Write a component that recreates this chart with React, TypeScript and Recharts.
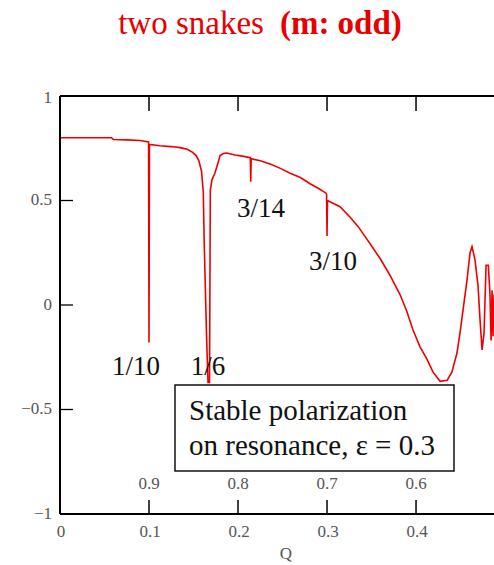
import React from "react";
import { LineChart, Line, XAxis, YAxis } from "recharts";

const qValues = [
  0, 0.03, 0.058, 0.06, 0.075, 0.09, 0.0995, 0.1, 0.1005, 0.112, 0.125, 0.135, 0.143, 0.149, 0.153, 0.156,
  0.159, 0.161, 0.162, 0.1648, 0.1663, 0.168, 0.1689, 0.1708, 0.174, 0.1779, 0.1798, 0.1835, 0.1873, 0.1966,
  0.208, 0.2138, 0.2143, 0.2148, 0.225, 0.236, 0.247, 0.258, 0.27, 0.281, 0.2915, 0.2989, 0.2995, 0.3, 0.3005,
  0.3146, 0.326, 0.335, 0.344, 0.352, 0.36, 0.371, 0.382, 0.3896, 0.3966, 0.4045, 0.4124, 0.419, 0.427, 0.435,
  0.4404, 0.446, 0.4494, 0.4528, 0.4573, 0.4607, 0.4629, 0.4663, 0.4697, 0.4719, 0.4742, 0.4764, 0.4787,
  0.4812, 0.4831, 0.4843, 0.4854, 0.4865, 0.4876,
];
const polarization = [
  0.8, 0.8, 0.8, 0.792, 0.79, 0.787, 0.78, -0.18, 0.768, 0.762, 0.758, 0.753, 0.745, 0.73, 0.715, 0.69,
  0.64, 0.54, 0.3, -0.17, -0.37, -0.37, 0.55, 0.6, 0.63, 0.685, 0.715, 0.725, 0.727, 0.718,
  0.71, 0.705, 0.59, 0.7, 0.69, 0.675, 0.655, 0.632, 0.61, 0.58, 0.555, 0.535, 0.53, 0.33, 0.5,
  0.47, 0.42, 0.375, 0.32, 0.27, 0.22, 0.14, 0.05, -0.03, -0.12, -0.2, -0.26, -0.32, -0.365, -0.36,
  -0.32, -0.23, -0.135, -0.025, 0.12, 0.25, 0.28, 0.215, 0.09, -0.07, -0.215, -0.135, 0.19,
  0.19, 0.05, -0.17, 0.07, -0.15, 0.05,
];

const xTicks = [0, 0.1, 0.2, 0.3, 0.4];
const xTickLabels = ["0", "0.1", "0.2", "0.3", "0.4"];
const innerTickLabels = ["", "0.9", "0.8", "0.7", "0.6"];
const topTicks = [0.1, 0.2, 0.3, 0.4];
const yTicks = [-1, -0.5, 0, 0.5, 1];
const yTickLabels = ["\u22121", "\u22120.5", "0", "0.5", "1"];

const resonanceLabels = ["1/10", "1/6", "3/14", "3/10"];
const boxLines = ["Stable polarization", "on resonance, \u03b5 = 0.3"];

const data = qValues.map((q, i) => ({ q, p: polarization[i] }));

const FONT = "Liberation Serif, serif";
const TICK_COLOR = "#555";
const txt = (size: number, extra: any = {}) => ({ fontFamily: FONT, fontSize: size, ...extra });

const BottomTick = (props: any) => {
  const { x, y, payload } = props;
  const i = xTicks.indexOf(payload.value);
  return (
    <g>
      {payload.value > 0 && <line x1={x} x2={x} y1={y} y2={y - 14} stroke="#000" strokeWidth={1.5} />}
      <text x={x + 1} y={y + 19} textAnchor="middle" dominantBaseline="middle" style={txt(17)} fill={TICK_COLOR}>
        {xTickLabels[i]}
      </text>
      {innerTickLabels[i] && (
        <text x={x} y={y - 29} textAnchor="middle" dominantBaseline="middle" style={txt(17)} fill={TICK_COLOR}>
          {innerTickLabels[i]}
        </text>
      )}
    </g>
  );
};

const TopTick = (props: any) => {
  const { x, y } = props;
  return <line x1={x} x2={x} y1={y} y2={y + 15} stroke="#000" strokeWidth={1.5} />;
};

const LeftTick = (props: any) => {
  const { x, y, payload } = props;
  const i = yTicks.indexOf(payload.value);
  const edge = payload.value === 1 || payload.value === -1;
  return (
    <g>
      {!edge && <line x1={x} x2={x + 13} y1={y} y2={y} stroke="#000" strokeWidth={1.3} />}
      <text x={x - 8} y={y + (payload.value === 1 ? 3 : 1)} textAnchor="end" dominantBaseline="middle" style={txt(17)} fill={TICK_COLOR}>
        {yTickLabels[i]}
      </text>
    </g>
  );
};

export default function App() {
  return (
    <div style={{ position: "absolute", left: 0, top: 0, width: 494, height: 565, background: "#fff", fontFamily: FONT }}>
      <LineChart
        width={494}
        height={565}
        data={data}
        margin={{ top: 76, right: 0, bottom: 21, left: 50 }}
      >
        <XAxis
          dataKey="q"
          type="number"
          domain={[0, 0.4876]}
          allowDataOverflow
          ticks={xTicks}
          tick={<BottomTick />}
          tickLine={false}
          tickSize={0}
          tickMargin={0}
          height={30}
          axisLine={{ stroke: "#000", strokeWidth: 2 }}
          interval={0}
        />
        <XAxis
          xAxisId="top"
          orientation="top"
          dataKey="q"
          type="number"
          domain={[0, 0.4876]}
          allowDataOverflow
          ticks={topTicks}
          tick={<TopTick />}
          tickLine={false}
          tickSize={0}
          tickMargin={0}
          height={20}
          axisLine={{ stroke: "#000", strokeWidth: 2 }}
          interval={0}
        />
        <YAxis
          type="number"
          domain={[-1, 1]}
          ticks={yTicks}
          tick={<LeftTick />}
          tickLine={false}
          tickSize={0}
          tickMargin={0}
          width={10}
          axisLine={{ stroke: "#000", strokeWidth: 2 }}
          interval={0}
        />
        <Line
          dataKey="p"
          type="linear"
          stroke="#ee0000"
          strokeWidth={1.6}
          dot={false}
          isAnimationActive={false}
        />
      </LineChart>
      <svg
        width={494}
        height={565}
        style={{ position: "absolute", left: 0, top: 0, pointerEvents: "none" }}
      >
        <text x={260} y={34} textAnchor="middle" style={txt(33)} fill="#e60000">
          <tspan>two snakes</tspan>
          <tspan dx={16} style={{ fontWeight: "bold" }}>(m: odd)</tspan>
        </text>
        <text x={136} y={375} textAnchor="middle" style={txt(27)} fill="#111">{resonanceLabels[0]}</text>
        <text x={208} y={375} textAnchor="middle" style={txt(27)} fill="#111">{resonanceLabels[1]}</text>
        <text x={261} y={217} textAnchor="middle" style={txt(27)} fill="#111">{resonanceLabels[2]}</text>
        <text x={333} y={270} textAnchor="middle" style={txt(27)} fill="#111">{resonanceLabels[3]}</text>
        <rect x={175} y={385} width={279} height={86} fill="none" stroke="#000" strokeWidth={1.4} />
        <text x={189} y={420} style={txt(29)} fill="#111">{boxLines[0]}</text>
        <text x={189} y={455} style={txt(29)} fill="#111">{boxLines[1]}</text>
        <text x={286} y={555} textAnchor="middle" dominantBaseline="middle" style={txt(17)} fill={TICK_COLOR}>Q</text>
      </svg>
    </div>
  );
}
